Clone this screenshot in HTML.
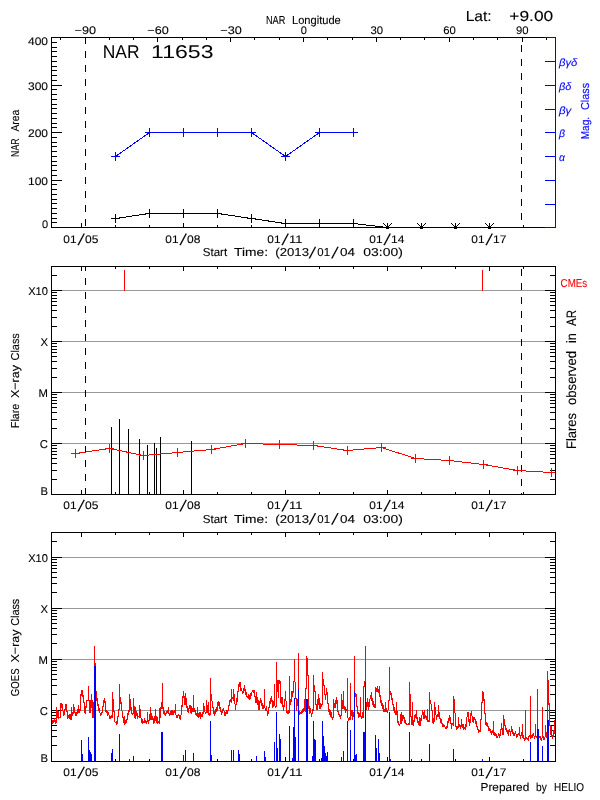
<!DOCTYPE html>
<html><head><meta charset="utf-8"><title>NAR 11653</title>
<style>html,body{margin:0;padding:0;background:#fff}svg{display:block}text{text-rendering:geometricPrecision;stroke-width:0.1px}</style>
</head><body>
<svg width="600" height="800" viewBox="0 0 600 800" font-family="Liberation Sans, sans-serif" shape-rendering="crispEdges">
<rect width="600" height="800" fill="#fff"/>
<defs><clipPath id="c2"><rect x="51" y="266" width="505" height="229"/></clipPath><clipPath id="c3"><rect x="52" y="533" width="503" height="229"/></clipPath></defs>
<rect x="51" y="37" width="495" height="1" fill="#000"/>
<rect x="545" y="37" width="11" height="1" fill="#0000ff"/>
<rect x="51" y="227" width="495" height="1" fill="#000"/>
<rect x="545" y="227" width="11" height="1" fill="#0000ff"/>
<rect x="51" y="37" width="1" height="191" fill="#000"/>
<rect x="555" y="37" width="1" height="191" fill="#0000ff"/>
<rect x="52" y="227" width="10" height="1" fill="#000"/>
<rect x="52" y="222" width="5" height="1" fill="#000"/>
<rect x="52" y="218" width="5" height="1" fill="#000"/>
<rect x="52" y="213" width="5" height="1" fill="#000"/>
<rect x="52" y="208" width="5" height="1" fill="#000"/>
<rect x="52" y="203" width="5" height="1" fill="#000"/>
<rect x="52" y="199" width="5" height="1" fill="#000"/>
<rect x="52" y="194" width="5" height="1" fill="#000"/>
<rect x="52" y="189" width="5" height="1" fill="#000"/>
<rect x="52" y="184" width="5" height="1" fill="#000"/>
<rect x="52" y="180" width="10" height="1" fill="#000"/>
<rect x="52" y="175" width="5" height="1" fill="#000"/>
<rect x="52" y="170" width="5" height="1" fill="#000"/>
<rect x="52" y="165" width="5" height="1" fill="#000"/>
<rect x="52" y="161" width="5" height="1" fill="#000"/>
<rect x="52" y="156" width="5" height="1" fill="#000"/>
<rect x="52" y="151" width="5" height="1" fill="#000"/>
<rect x="52" y="146" width="5" height="1" fill="#000"/>
<rect x="52" y="142" width="5" height="1" fill="#000"/>
<rect x="52" y="137" width="5" height="1" fill="#000"/>
<rect x="52" y="132" width="10" height="1" fill="#000"/>
<rect x="52" y="127" width="5" height="1" fill="#000"/>
<rect x="52" y="123" width="5" height="1" fill="#000"/>
<rect x="52" y="118" width="5" height="1" fill="#000"/>
<rect x="52" y="113" width="5" height="1" fill="#000"/>
<rect x="52" y="108" width="5" height="1" fill="#000"/>
<rect x="52" y="104" width="5" height="1" fill="#000"/>
<rect x="52" y="99" width="5" height="1" fill="#000"/>
<rect x="52" y="94" width="5" height="1" fill="#000"/>
<rect x="52" y="89" width="5" height="1" fill="#000"/>
<rect x="52" y="85" width="10" height="1" fill="#000"/>
<rect x="52" y="80" width="5" height="1" fill="#000"/>
<rect x="52" y="75" width="5" height="1" fill="#000"/>
<rect x="52" y="70" width="5" height="1" fill="#000"/>
<rect x="52" y="66" width="5" height="1" fill="#000"/>
<rect x="52" y="61" width="5" height="1" fill="#000"/>
<rect x="52" y="56" width="5" height="1" fill="#000"/>
<rect x="52" y="51" width="5" height="1" fill="#000"/>
<rect x="52" y="47" width="5" height="1" fill="#000"/>
<rect x="52" y="42" width="5" height="1" fill="#000"/>
<rect x="52" y="37" width="10" height="1" fill="#000"/>
<rect x="545" y="61" width="10" height="1" fill="#0000ff"/>
<rect x="545" y="85" width="10" height="1" fill="#0000ff"/>
<rect x="545" y="109" width="10" height="1" fill="#0000ff"/>
<rect x="545" y="132" width="10" height="1" fill="#0000ff"/>
<rect x="545" y="156" width="10" height="1" fill="#0000ff"/>
<rect x="545" y="180" width="10" height="1" fill="#0000ff"/>
<rect x="545" y="204" width="10" height="1" fill="#0000ff"/>
<rect x="81" y="223" width="1" height="4" fill="#000"/>
<rect x="115" y="225" width="1" height="2" fill="#000"/>
<rect x="149" y="225" width="1" height="2" fill="#000"/>
<rect x="183" y="223" width="1" height="4" fill="#000"/>
<rect x="217" y="225" width="1" height="2" fill="#000"/>
<rect x="251" y="225" width="1" height="2" fill="#000"/>
<rect x="285" y="223" width="1" height="4" fill="#000"/>
<rect x="319" y="225" width="1" height="2" fill="#000"/>
<rect x="353" y="225" width="1" height="2" fill="#000"/>
<rect x="387" y="223" width="1" height="4" fill="#000"/>
<rect x="421" y="225" width="1" height="2" fill="#000"/>
<rect x="455" y="225" width="1" height="2" fill="#000"/>
<rect x="489" y="223" width="1" height="4" fill="#000"/>
<rect x="523" y="225" width="1" height="2" fill="#000"/>
<rect x="60" y="38" width="1" height="2" fill="#000"/>
<rect x="85" y="38" width="1" height="4" fill="#000"/>
<rect x="109" y="38" width="1" height="2" fill="#000"/>
<rect x="133" y="38" width="1" height="2" fill="#000"/>
<rect x="157" y="38" width="1" height="4" fill="#000"/>
<rect x="182" y="38" width="1" height="2" fill="#000"/>
<rect x="206" y="38" width="1" height="2" fill="#000"/>
<rect x="230" y="38" width="1" height="4" fill="#000"/>
<rect x="254" y="38" width="1" height="2" fill="#000"/>
<rect x="279" y="38" width="1" height="2" fill="#000"/>
<rect x="303" y="38" width="1" height="4" fill="#000"/>
<rect x="327" y="38" width="1" height="2" fill="#000"/>
<rect x="352" y="38" width="1" height="2" fill="#000"/>
<rect x="376" y="38" width="1" height="4" fill="#000"/>
<rect x="400" y="38" width="1" height="2" fill="#000"/>
<rect x="424" y="38" width="1" height="2" fill="#000"/>
<rect x="449" y="38" width="1" height="4" fill="#000"/>
<rect x="473" y="38" width="1" height="2" fill="#000"/>
<rect x="497" y="38" width="1" height="2" fill="#000"/>
<rect x="522" y="38" width="1" height="4" fill="#000"/>
<rect x="546" y="38" width="1" height="2" fill="#000"/>
<rect x="85" y="38" width="1" height="6" fill="#000"/>
<rect x="85" y="51" width="1" height="7" fill="#000"/>
<rect x="85" y="65" width="1" height="7" fill="#000"/>
<rect x="85" y="79" width="1" height="7" fill="#000"/>
<rect x="85" y="93" width="1" height="7" fill="#000"/>
<rect x="85" y="107" width="1" height="7" fill="#000"/>
<rect x="85" y="121" width="1" height="7" fill="#000"/>
<rect x="85" y="135" width="1" height="7" fill="#000"/>
<rect x="85" y="149" width="1" height="7" fill="#000"/>
<rect x="85" y="163" width="1" height="7" fill="#000"/>
<rect x="85" y="177" width="1" height="7" fill="#000"/>
<rect x="85" y="191" width="1" height="7" fill="#000"/>
<rect x="85" y="205" width="1" height="7" fill="#000"/>
<rect x="85" y="219" width="1" height="7" fill="#000"/>
<rect x="521" y="45" width="1" height="7" fill="#000"/>
<rect x="521" y="59" width="1" height="7" fill="#000"/>
<rect x="521" y="73" width="1" height="7" fill="#000"/>
<rect x="521" y="87" width="1" height="7" fill="#000"/>
<rect x="521" y="101" width="1" height="7" fill="#000"/>
<rect x="521" y="115" width="1" height="7" fill="#000"/>
<rect x="521" y="129" width="1" height="7" fill="#000"/>
<rect x="521" y="143" width="1" height="7" fill="#000"/>
<rect x="521" y="157" width="1" height="7" fill="#000"/>
<rect x="521" y="171" width="1" height="7" fill="#000"/>
<rect x="521" y="185" width="1" height="7" fill="#000"/>
<rect x="521" y="199" width="1" height="7" fill="#000"/>
<rect x="521" y="213" width="1" height="7" fill="#000"/>
<polyline points="115.5,156.5 149.5,132.5 183.5,132.5 217.5,132.5 251.5,132.5 285.5,156.5 319.5,132.5 353.5,132.5" fill="none" stroke="#0000ff" stroke-width="1"/>
<rect x="111" y="156" width="9" height="1" fill="#0000ff"/>
<rect x="115" y="152" width="1" height="9" fill="#0000ff"/>
<rect x="145" y="132" width="9" height="1" fill="#0000ff"/>
<rect x="149" y="128" width="1" height="9" fill="#0000ff"/>
<rect x="179" y="132" width="9" height="1" fill="#0000ff"/>
<rect x="183" y="128" width="1" height="9" fill="#0000ff"/>
<rect x="213" y="132" width="9" height="1" fill="#0000ff"/>
<rect x="217" y="128" width="1" height="9" fill="#0000ff"/>
<rect x="247" y="132" width="9" height="1" fill="#0000ff"/>
<rect x="251" y="128" width="1" height="9" fill="#0000ff"/>
<rect x="281" y="156" width="9" height="1" fill="#0000ff"/>
<rect x="285" y="152" width="1" height="9" fill="#0000ff"/>
<rect x="315" y="132" width="9" height="1" fill="#0000ff"/>
<rect x="319" y="128" width="1" height="9" fill="#0000ff"/>
<rect x="349" y="132" width="9" height="1" fill="#0000ff"/>
<rect x="353" y="128" width="1" height="9" fill="#0000ff"/>
<polyline points="115.5,218.5 149.5,213.5 183.5,213.5 217.5,213.5 251.5,218.5 285.5,223.5 319.5,223.5 353.5,223.5 387.5,227.5" fill="none" stroke="#000" stroke-width="1"/>
<rect x="111" y="218" width="9" height="1" fill="#000"/>
<rect x="115" y="214" width="1" height="9" fill="#000"/>
<rect x="145" y="213" width="9" height="1" fill="#000"/>
<rect x="149" y="209" width="1" height="9" fill="#000"/>
<rect x="179" y="213" width="9" height="1" fill="#000"/>
<rect x="183" y="209" width="1" height="9" fill="#000"/>
<rect x="213" y="213" width="9" height="1" fill="#000"/>
<rect x="217" y="209" width="1" height="9" fill="#000"/>
<rect x="247" y="218" width="9" height="1" fill="#000"/>
<rect x="251" y="214" width="1" height="9" fill="#000"/>
<rect x="281" y="223" width="9" height="1" fill="#000"/>
<rect x="285" y="219" width="1" height="9" fill="#000"/>
<rect x="315" y="223" width="9" height="1" fill="#000"/>
<rect x="319" y="219" width="1" height="9" fill="#000"/>
<rect x="349" y="223" width="9" height="1" fill="#000"/>
<rect x="353" y="219" width="1" height="9" fill="#000"/>
<path d="M383.5,223.5L387.5,227.5L391.5,223.5" fill="none" stroke="#000" stroke-width="1"/>
<rect x="387" y="223" width="1" height="4" fill="#000"/>
<rect x="386" y="226" width="3" height="3" fill="#000"/>
<path d="M417.5,223.5L421.5,227.5L425.5,223.5" fill="none" stroke="#000" stroke-width="1"/>
<rect x="421" y="223" width="1" height="4" fill="#000"/>
<rect x="420" y="226" width="3" height="3" fill="#000"/>
<path d="M451.5,223.5L455.5,227.5L459.5,223.5" fill="none" stroke="#000" stroke-width="1"/>
<rect x="455" y="223" width="1" height="4" fill="#000"/>
<rect x="454" y="226" width="3" height="3" fill="#000"/>
<path d="M485.5,223.5L489.5,227.5L493.5,223.5" fill="none" stroke="#000" stroke-width="1"/>
<rect x="489" y="223" width="1" height="4" fill="#000"/>
<rect x="488" y="226" width="3" height="3" fill="#000"/>
<text font-size="11.5" fill="#000" stroke="#000"><tspan x="265.9" y="24.2" rotate="0" textLength="19.4" lengthAdjust="spacingAndGlyphs">NAR</tspan> <tspan x="292.0" y="24.2" rotate="0" textLength="48.8" lengthAdjust="spacingAndGlyphs">Longitude</tspan></text>
<text font-size="14.5" fill="#000" stroke="#000"><tspan x="465.7" y="20.8" rotate="0" textLength="26.0" lengthAdjust="spacingAndGlyphs">Lat:</tspan> <tspan x="509.3" y="20.8" rotate="0" textLength="44.0" lengthAdjust="spacingAndGlyphs">+9.00</tspan></text>
<text x="85.3" y="34" font-size="11" text-anchor="middle" fill="#000" stroke="#000" textLength="21.5" lengthAdjust="spacingAndGlyphs">&#8722;90</text>
<text x="158.1" y="34" font-size="11" text-anchor="middle" fill="#000" stroke="#000" textLength="21.5" lengthAdjust="spacingAndGlyphs">&#8722;60</text>
<text x="231.0" y="34" font-size="11" text-anchor="middle" fill="#000" stroke="#000" textLength="21.5" lengthAdjust="spacingAndGlyphs">&#8722;30</text>
<text x="303.8" y="34" font-size="11" text-anchor="middle" fill="#000" stroke="#000">0</text>
<text x="376.7" y="34" font-size="11" text-anchor="middle" fill="#000" stroke="#000" textLength="12.6" lengthAdjust="spacingAndGlyphs">30</text>
<text x="449.5" y="34" font-size="11" text-anchor="middle" fill="#000" stroke="#000" textLength="12.6" lengthAdjust="spacingAndGlyphs">60</text>
<text x="522.3" y="34" font-size="11" text-anchor="middle" fill="#000" stroke="#000" textLength="12.6" lengthAdjust="spacingAndGlyphs">90</text>
<text y="57.6" font-size="18.5" stroke="none"><tspan x="102.8" textLength="36.7" lengthAdjust="spacingAndGlyphs">NAR</tspan> <tspan x="151" textLength="62.5" lengthAdjust="spacingAndGlyphs">11653</tspan></text>
<text x="48" y="45" font-size="11" text-anchor="end" fill="#000" stroke="#000" textLength="20" lengthAdjust="spacingAndGlyphs">400</text>
<text x="48" y="89.7" font-size="11" text-anchor="end" fill="#000" stroke="#000" textLength="20" lengthAdjust="spacingAndGlyphs">300</text>
<text x="48" y="137" font-size="11" text-anchor="end" fill="#000" stroke="#000" textLength="20" lengthAdjust="spacingAndGlyphs">200</text>
<text x="48" y="184.8" font-size="11" text-anchor="end" fill="#000" stroke="#000" textLength="20" lengthAdjust="spacingAndGlyphs">100</text>
<text x="48" y="227.8" font-size="11" text-anchor="end" fill="#000" stroke="#000">0</text>
<text font-size="11.5" fill="#000" stroke="#000" transform="translate(19.2,156.9) rotate(-90)"><tspan x="0.0" y="0" rotate="0" textLength="18.5" lengthAdjust="spacingAndGlyphs">NAR</tspan> <tspan x="25.3" y="0" rotate="0" textLength="21.9" lengthAdjust="spacingAndGlyphs">Area</tspan></text>
<text x="559" y="65.5" font-size="10.5" text-anchor="start" fill="#0000ff" stroke="#0000ff" textLength="18.4" lengthAdjust="spacingAndGlyphs" font-style="italic">&#946;&#947;&#948;</text>
<text x="559" y="89.5" font-size="10.5" text-anchor="start" fill="#0000ff" stroke="#0000ff" textLength="12.3" lengthAdjust="spacingAndGlyphs" font-style="italic">&#946;&#948;</text>
<text x="559" y="113.5" font-size="10.5" text-anchor="start" fill="#0000ff" stroke="#0000ff" textLength="12.3" lengthAdjust="spacingAndGlyphs" font-style="italic">&#946;&#947;</text>
<text x="559" y="136.5" font-size="10.5" text-anchor="start" fill="#0000ff" stroke="#0000ff" font-style="italic">&#946;</text>
<text x="559" y="160.5" font-size="10.5" text-anchor="start" fill="#0000ff" stroke="#0000ff" font-style="italic">&#945;</text>
<text font-size="11.5" fill="#0000ff" stroke="#0000ff" transform="translate(589.2,139.2) rotate(-90)"><tspan x="0.0" y="0" rotate="0" textLength="22.2" lengthAdjust="spacingAndGlyphs">Mag.</tspan> <tspan x="29.2" y="0" rotate="0" textLength="27.1" lengthAdjust="spacingAndGlyphs">Class</tspan></text>
<text font-size="11" fill="#000" stroke="#000"><tspan x="63.3" y="243" rotate="0" textLength="13.2" lengthAdjust="spacingAndGlyphs">01</tspan><tspan x="77.6" y="244.7" font-size="17" rotate="13">/</tspan><tspan x="85.1" y="243" rotate="0" textLength="13.4" lengthAdjust="spacingAndGlyphs">05</tspan></text>
<text font-size="11" fill="#000" stroke="#000"><tspan x="165.3" y="243" rotate="0" textLength="13.2" lengthAdjust="spacingAndGlyphs">01</tspan><tspan x="179.6" y="244.7" font-size="17" rotate="13">/</tspan><tspan x="187.1" y="243" rotate="0" textLength="13.4" lengthAdjust="spacingAndGlyphs">08</tspan></text>
<text font-size="11" fill="#000" stroke="#000"><tspan x="267.3" y="243" rotate="0" textLength="13.2" lengthAdjust="spacingAndGlyphs">01</tspan><tspan x="281.6" y="244.7" font-size="17" rotate="13">/</tspan><tspan x="289.1" y="243" rotate="0" textLength="13.4" lengthAdjust="spacingAndGlyphs">11</tspan></text>
<text font-size="11" fill="#000" stroke="#000"><tspan x="369.3" y="243" rotate="0" textLength="13.2" lengthAdjust="spacingAndGlyphs">01</tspan><tspan x="383.6" y="244.7" font-size="17" rotate="13">/</tspan><tspan x="391.1" y="243" rotate="0" textLength="13.4" lengthAdjust="spacingAndGlyphs">14</tspan></text>
<text font-size="11" fill="#000" stroke="#000"><tspan x="471.3" y="243" rotate="0" textLength="13.2" lengthAdjust="spacingAndGlyphs">01</tspan><tspan x="485.6" y="244.7" font-size="17" rotate="13">/</tspan><tspan x="493.1" y="243" rotate="0" textLength="13.4" lengthAdjust="spacingAndGlyphs">17</tspan></text>
<text font-size="11.5" fill="#000" stroke="#000"><tspan x="202.8" y="256.4" rotate="0" textLength="24.4" lengthAdjust="spacingAndGlyphs">Start</tspan> <tspan x="234.0" y="256.4" rotate="0" textLength="34.0" lengthAdjust="spacingAndGlyphs">Time:</tspan> <tspan x="275.3" y="256.4" rotate="0" textLength="33.7" lengthAdjust="spacingAndGlyphs">(2013</tspan><tspan x="308.7" y="258.1" font-size="17" rotate="13">/</tspan><tspan x="317.3" y="256.4" rotate="0" textLength="12.7" lengthAdjust="spacingAndGlyphs">01</tspan><tspan x="331.3" y="258.1" font-size="17" rotate="13">/</tspan><tspan x="340.0" y="256.4" rotate="0" textLength="15.0" lengthAdjust="spacingAndGlyphs">04</tspan> <tspan x="363.3" y="256.4" rotate="0" textLength="39.5" lengthAdjust="spacingAndGlyphs">03:00)</tspan></text>
<rect x="51" y="266" width="505" height="1" fill="#000"/>
<rect x="51" y="494" width="505" height="1" fill="#000"/>
<rect x="51" y="266" width="1" height="229" fill="#000"/>
<rect x="555" y="266" width="1" height="229" fill="#000"/>
<rect x="81" y="267" width="1" height="4" fill="#000"/>
<rect x="115" y="267" width="1" height="2" fill="#000"/>
<rect x="149" y="267" width="1" height="2" fill="#000"/>
<rect x="183" y="267" width="1" height="4" fill="#000"/>
<rect x="217" y="267" width="1" height="2" fill="#000"/>
<rect x="251" y="267" width="1" height="2" fill="#000"/>
<rect x="285" y="267" width="1" height="4" fill="#000"/>
<rect x="319" y="267" width="1" height="2" fill="#000"/>
<rect x="353" y="267" width="1" height="2" fill="#000"/>
<rect x="387" y="267" width="1" height="4" fill="#000"/>
<rect x="421" y="267" width="1" height="2" fill="#000"/>
<rect x="455" y="267" width="1" height="2" fill="#000"/>
<rect x="489" y="267" width="1" height="4" fill="#000"/>
<rect x="523" y="267" width="1" height="2" fill="#000"/>
<rect x="81" y="490" width="1" height="4" fill="#000"/>
<rect x="115" y="492" width="1" height="2" fill="#000"/>
<rect x="149" y="492" width="1" height="2" fill="#000"/>
<rect x="183" y="490" width="1" height="4" fill="#000"/>
<rect x="217" y="492" width="1" height="2" fill="#000"/>
<rect x="251" y="492" width="1" height="2" fill="#000"/>
<rect x="285" y="490" width="1" height="4" fill="#000"/>
<rect x="319" y="492" width="1" height="2" fill="#000"/>
<rect x="353" y="492" width="1" height="2" fill="#000"/>
<rect x="387" y="490" width="1" height="4" fill="#000"/>
<rect x="421" y="492" width="1" height="2" fill="#000"/>
<rect x="455" y="492" width="1" height="2" fill="#000"/>
<rect x="489" y="490" width="1" height="4" fill="#000"/>
<rect x="523" y="492" width="1" height="2" fill="#000"/>
<rect x="62" y="290" width="483" height="1" fill="#999999"/>
<rect x="62" y="341" width="483" height="1" fill="#999999"/>
<rect x="62" y="392" width="483" height="1" fill="#999999"/>
<rect x="62" y="443" width="483" height="1" fill="#999999"/>
<rect x="52" y="290" width="10" height="1" fill="#000"/>
<rect x="545" y="290" width="10" height="1" fill="#000"/>
<rect x="52" y="275" width="5" height="1" fill="#000"/>
<rect x="550" y="275" width="5" height="1" fill="#000"/>
<rect x="52" y="341" width="10" height="1" fill="#000"/>
<rect x="545" y="341" width="10" height="1" fill="#000"/>
<rect x="52" y="326" width="5" height="1" fill="#000"/>
<rect x="550" y="326" width="5" height="1" fill="#000"/>
<rect x="52" y="317" width="5" height="1" fill="#000"/>
<rect x="550" y="317" width="5" height="1" fill="#000"/>
<rect x="52" y="310" width="5" height="1" fill="#000"/>
<rect x="550" y="310" width="5" height="1" fill="#000"/>
<rect x="52" y="305" width="5" height="1" fill="#000"/>
<rect x="550" y="305" width="5" height="1" fill="#000"/>
<rect x="52" y="301" width="5" height="1" fill="#000"/>
<rect x="550" y="301" width="5" height="1" fill="#000"/>
<rect x="52" y="298" width="5" height="1" fill="#000"/>
<rect x="550" y="298" width="5" height="1" fill="#000"/>
<rect x="52" y="295" width="5" height="1" fill="#000"/>
<rect x="550" y="295" width="5" height="1" fill="#000"/>
<rect x="52" y="292" width="5" height="1" fill="#000"/>
<rect x="550" y="292" width="5" height="1" fill="#000"/>
<rect x="52" y="392" width="10" height="1" fill="#000"/>
<rect x="545" y="392" width="10" height="1" fill="#000"/>
<rect x="52" y="377" width="5" height="1" fill="#000"/>
<rect x="550" y="377" width="5" height="1" fill="#000"/>
<rect x="52" y="368" width="5" height="1" fill="#000"/>
<rect x="550" y="368" width="5" height="1" fill="#000"/>
<rect x="52" y="361" width="5" height="1" fill="#000"/>
<rect x="550" y="361" width="5" height="1" fill="#000"/>
<rect x="52" y="356" width="5" height="1" fill="#000"/>
<rect x="550" y="356" width="5" height="1" fill="#000"/>
<rect x="52" y="352" width="5" height="1" fill="#000"/>
<rect x="550" y="352" width="5" height="1" fill="#000"/>
<rect x="52" y="349" width="5" height="1" fill="#000"/>
<rect x="550" y="349" width="5" height="1" fill="#000"/>
<rect x="52" y="346" width="5" height="1" fill="#000"/>
<rect x="550" y="346" width="5" height="1" fill="#000"/>
<rect x="52" y="343" width="5" height="1" fill="#000"/>
<rect x="550" y="343" width="5" height="1" fill="#000"/>
<rect x="52" y="443" width="10" height="1" fill="#000"/>
<rect x="545" y="443" width="10" height="1" fill="#000"/>
<rect x="52" y="428" width="5" height="1" fill="#000"/>
<rect x="550" y="428" width="5" height="1" fill="#000"/>
<rect x="52" y="419" width="5" height="1" fill="#000"/>
<rect x="550" y="419" width="5" height="1" fill="#000"/>
<rect x="52" y="412" width="5" height="1" fill="#000"/>
<rect x="550" y="412" width="5" height="1" fill="#000"/>
<rect x="52" y="407" width="5" height="1" fill="#000"/>
<rect x="550" y="407" width="5" height="1" fill="#000"/>
<rect x="52" y="403" width="5" height="1" fill="#000"/>
<rect x="550" y="403" width="5" height="1" fill="#000"/>
<rect x="52" y="400" width="5" height="1" fill="#000"/>
<rect x="550" y="400" width="5" height="1" fill="#000"/>
<rect x="52" y="397" width="5" height="1" fill="#000"/>
<rect x="550" y="397" width="5" height="1" fill="#000"/>
<rect x="52" y="394" width="5" height="1" fill="#000"/>
<rect x="550" y="394" width="5" height="1" fill="#000"/>
<rect x="52" y="479" width="5" height="1" fill="#000"/>
<rect x="550" y="479" width="5" height="1" fill="#000"/>
<rect x="52" y="470" width="5" height="1" fill="#000"/>
<rect x="550" y="470" width="5" height="1" fill="#000"/>
<rect x="52" y="463" width="5" height="1" fill="#000"/>
<rect x="550" y="463" width="5" height="1" fill="#000"/>
<rect x="52" y="458" width="5" height="1" fill="#000"/>
<rect x="550" y="458" width="5" height="1" fill="#000"/>
<rect x="52" y="454" width="5" height="1" fill="#000"/>
<rect x="550" y="454" width="5" height="1" fill="#000"/>
<rect x="52" y="451" width="5" height="1" fill="#000"/>
<rect x="550" y="451" width="5" height="1" fill="#000"/>
<rect x="52" y="448" width="5" height="1" fill="#000"/>
<rect x="550" y="448" width="5" height="1" fill="#000"/>
<rect x="52" y="445" width="5" height="1" fill="#000"/>
<rect x="550" y="445" width="5" height="1" fill="#000"/>
<rect x="85" y="267" width="1" height="4" fill="#000"/>
<rect x="85" y="278" width="1" height="7" fill="#000"/>
<rect x="85" y="292" width="1" height="7" fill="#000"/>
<rect x="85" y="306" width="1" height="7" fill="#000"/>
<rect x="85" y="320" width="1" height="7" fill="#000"/>
<rect x="85" y="334" width="1" height="7" fill="#000"/>
<rect x="85" y="348" width="1" height="7" fill="#000"/>
<rect x="85" y="362" width="1" height="7" fill="#000"/>
<rect x="85" y="376" width="1" height="7" fill="#000"/>
<rect x="85" y="390" width="1" height="7" fill="#000"/>
<rect x="85" y="404" width="1" height="7" fill="#000"/>
<rect x="85" y="418" width="1" height="7" fill="#000"/>
<rect x="85" y="432" width="1" height="7" fill="#000"/>
<rect x="85" y="446" width="1" height="7" fill="#000"/>
<rect x="85" y="460" width="1" height="7" fill="#000"/>
<rect x="85" y="474" width="1" height="7" fill="#000"/>
<rect x="85" y="488" width="1" height="6" fill="#000"/>
<rect x="521" y="269" width="1" height="7" fill="#000"/>
<rect x="521" y="283" width="1" height="7" fill="#000"/>
<rect x="521" y="297" width="1" height="7" fill="#000"/>
<rect x="521" y="311" width="1" height="7" fill="#000"/>
<rect x="521" y="325" width="1" height="7" fill="#000"/>
<rect x="521" y="339" width="1" height="7" fill="#000"/>
<rect x="521" y="353" width="1" height="7" fill="#000"/>
<rect x="521" y="367" width="1" height="7" fill="#000"/>
<rect x="521" y="381" width="1" height="7" fill="#000"/>
<rect x="521" y="395" width="1" height="7" fill="#000"/>
<rect x="521" y="409" width="1" height="7" fill="#000"/>
<rect x="521" y="423" width="1" height="7" fill="#000"/>
<rect x="521" y="437" width="1" height="7" fill="#000"/>
<rect x="521" y="451" width="1" height="7" fill="#000"/>
<rect x="521" y="465" width="1" height="7" fill="#000"/>
<rect x="521" y="479" width="1" height="7" fill="#000"/>
<rect x="521" y="493" width="1" height="1" fill="#000"/>
<rect x="111" y="427" width="1" height="67" fill="#000"/>
<rect x="119" y="419" width="1" height="75" fill="#000"/>
<rect x="128" y="429" width="1" height="65" fill="#000"/>
<rect x="139" y="439" width="1" height="55" fill="#000"/>
<rect x="147" y="445" width="1" height="49" fill="#000"/>
<rect x="154" y="443" width="1" height="51" fill="#000"/>
<rect x="156" y="448" width="1" height="46" fill="#000"/>
<rect x="160" y="437" width="1" height="57" fill="#000"/>
<rect x="191" y="441" width="1" height="53" fill="#000"/>
<rect x="124" y="270" width="1" height="21" fill="#ff0000"/>
<rect x="482" y="270" width="1" height="21" fill="#ff0000"/>
<g clip-path="url(#c2)">
<polyline points="75.5,453.5 109.5,448.5 143.5,455.5 177.5,452.5 211.5,449.5 245.5,443.5 279.5,444.5 313.5,445.5 347.5,450.5 381.5,447.5 415.5,458.5 449.5,460.5 483.5,464.5 517.5,470.5 551.5,472.5" fill="none" stroke="#ff0000" stroke-width="1"/>
<rect x="71" y="453" width="9" height="1" fill="#ff0000"/>
<rect x="75" y="449" width="1" height="9" fill="#ff0000"/>
<rect x="105" y="448" width="9" height="1" fill="#ff0000"/>
<rect x="109" y="444" width="1" height="9" fill="#ff0000"/>
<rect x="139" y="455" width="9" height="1" fill="#ff0000"/>
<rect x="143" y="451" width="1" height="9" fill="#ff0000"/>
<rect x="173" y="452" width="9" height="1" fill="#ff0000"/>
<rect x="177" y="448" width="1" height="9" fill="#ff0000"/>
<rect x="207" y="449" width="9" height="1" fill="#ff0000"/>
<rect x="211" y="445" width="1" height="9" fill="#ff0000"/>
<rect x="241" y="443" width="9" height="1" fill="#ff0000"/>
<rect x="245" y="439" width="1" height="9" fill="#ff0000"/>
<rect x="275" y="444" width="9" height="1" fill="#ff0000"/>
<rect x="279" y="440" width="1" height="9" fill="#ff0000"/>
<rect x="309" y="445" width="9" height="1" fill="#ff0000"/>
<rect x="313" y="441" width="1" height="9" fill="#ff0000"/>
<rect x="343" y="450" width="9" height="1" fill="#ff0000"/>
<rect x="347" y="446" width="1" height="9" fill="#ff0000"/>
<rect x="377" y="447" width="9" height="1" fill="#ff0000"/>
<rect x="381" y="443" width="1" height="9" fill="#ff0000"/>
<rect x="411" y="458" width="9" height="1" fill="#ff0000"/>
<rect x="415" y="454" width="1" height="9" fill="#ff0000"/>
<rect x="445" y="460" width="9" height="1" fill="#ff0000"/>
<rect x="449" y="456" width="1" height="9" fill="#ff0000"/>
<rect x="479" y="464" width="9" height="1" fill="#ff0000"/>
<rect x="483" y="460" width="1" height="9" fill="#ff0000"/>
<rect x="513" y="470" width="9" height="1" fill="#ff0000"/>
<rect x="517" y="466" width="1" height="9" fill="#ff0000"/>
<rect x="547" y="472" width="9" height="1" fill="#ff0000"/>
<rect x="551" y="468" width="1" height="9" fill="#ff0000"/>
</g>
<rect x="555" y="266" width="1" height="229" fill="#000"/>
<text x="48" y="294.6" font-size="11.3" text-anchor="end" fill="#000" stroke="#000" textLength="19.8" lengthAdjust="spacingAndGlyphs">X10</text>
<text x="48" y="345.6" font-size="11.3" text-anchor="end" fill="#000" stroke="#000">X</text>
<text x="48" y="396.6" font-size="11.3" text-anchor="end" fill="#000" stroke="#000">M</text>
<text x="48" y="447.6" font-size="11.3" text-anchor="end" fill="#000" stroke="#000">C</text>
<text x="48" y="494.5" font-size="11.3" text-anchor="end" fill="#000" stroke="#000">B</text>
<text font-size="11.5" fill="#000" stroke="#000" transform="translate(19.2,428) rotate(-90)"><tspan x="0.0" y="0" rotate="0" textLength="24.0" lengthAdjust="spacingAndGlyphs">Flare</tspan> <tspan x="30.0" y="0" rotate="0" textLength="33.0" lengthAdjust="spacingAndGlyphs">X&#8722;ray</tspan> <tspan x="67.5" y="0" rotate="0" textLength="27.3" lengthAdjust="spacingAndGlyphs">Class</tspan></text>
<text x="560.6" y="287.1" font-size="11.5" text-anchor="start" fill="#ff0000" stroke="#ff0000" textLength="26.6" lengthAdjust="spacingAndGlyphs">CMEs</text>
<text font-size="13.7" fill="#000" stroke="#000" transform="translate(575.8,449) rotate(-90)"><tspan x="0.0" y="0" rotate="0" textLength="36.0" lengthAdjust="spacingAndGlyphs">Flares</tspan> <tspan x="44.0" y="0" rotate="0" textLength="54.0" lengthAdjust="spacingAndGlyphs">observed</tspan> <tspan x="106.0" y="0" rotate="0" textLength="10.0" lengthAdjust="spacingAndGlyphs">in</tspan> <tspan x="123.0" y="0" rotate="0" textLength="16.0" lengthAdjust="spacingAndGlyphs">AR</tspan></text>
<text font-size="11" fill="#000" stroke="#000"><tspan x="63.3" y="509.2" rotate="0" textLength="13.2" lengthAdjust="spacingAndGlyphs">01</tspan><tspan x="77.6" y="510.9" font-size="17" rotate="13">/</tspan><tspan x="85.1" y="509.2" rotate="0" textLength="13.4" lengthAdjust="spacingAndGlyphs">05</tspan></text>
<text font-size="11" fill="#000" stroke="#000"><tspan x="165.3" y="509.2" rotate="0" textLength="13.2" lengthAdjust="spacingAndGlyphs">01</tspan><tspan x="179.6" y="510.9" font-size="17" rotate="13">/</tspan><tspan x="187.1" y="509.2" rotate="0" textLength="13.4" lengthAdjust="spacingAndGlyphs">08</tspan></text>
<text font-size="11" fill="#000" stroke="#000"><tspan x="267.3" y="509.2" rotate="0" textLength="13.2" lengthAdjust="spacingAndGlyphs">01</tspan><tspan x="281.6" y="510.9" font-size="17" rotate="13">/</tspan><tspan x="289.1" y="509.2" rotate="0" textLength="13.4" lengthAdjust="spacingAndGlyphs">11</tspan></text>
<text font-size="11" fill="#000" stroke="#000"><tspan x="369.3" y="509.2" rotate="0" textLength="13.2" lengthAdjust="spacingAndGlyphs">01</tspan><tspan x="383.6" y="510.9" font-size="17" rotate="13">/</tspan><tspan x="391.1" y="509.2" rotate="0" textLength="13.4" lengthAdjust="spacingAndGlyphs">14</tspan></text>
<text font-size="11" fill="#000" stroke="#000"><tspan x="471.3" y="509.2" rotate="0" textLength="13.2" lengthAdjust="spacingAndGlyphs">01</tspan><tspan x="485.6" y="510.9" font-size="17" rotate="13">/</tspan><tspan x="493.1" y="509.2" rotate="0" textLength="13.4" lengthAdjust="spacingAndGlyphs">17</tspan></text>
<text font-size="11.5" fill="#000" stroke="#000"><tspan x="202.8" y="522.6" rotate="0" textLength="24.4" lengthAdjust="spacingAndGlyphs">Start</tspan> <tspan x="234.0" y="522.6" rotate="0" textLength="34.0" lengthAdjust="spacingAndGlyphs">Time:</tspan> <tspan x="275.3" y="522.6" rotate="0" textLength="33.7" lengthAdjust="spacingAndGlyphs">(2013</tspan><tspan x="308.7" y="524.3" font-size="17" rotate="13">/</tspan><tspan x="317.3" y="522.6" rotate="0" textLength="12.7" lengthAdjust="spacingAndGlyphs">01</tspan><tspan x="331.3" y="524.3" font-size="17" rotate="13">/</tspan><tspan x="340.0" y="522.6" rotate="0" textLength="15.0" lengthAdjust="spacingAndGlyphs">04</tspan> <tspan x="363.3" y="522.6" rotate="0" textLength="39.5" lengthAdjust="spacingAndGlyphs">03:00)</tspan></text>
<rect x="51" y="532" width="505" height="1" fill="#000"/>
<rect x="51" y="761" width="505" height="1" fill="#000"/>
<rect x="51" y="532" width="1" height="230" fill="#000"/>
<rect x="555" y="532" width="1" height="230" fill="#000"/>
<rect x="81" y="533" width="1" height="4" fill="#000"/>
<rect x="115" y="533" width="1" height="2" fill="#000"/>
<rect x="149" y="533" width="1" height="2" fill="#000"/>
<rect x="183" y="533" width="1" height="4" fill="#000"/>
<rect x="217" y="533" width="1" height="2" fill="#000"/>
<rect x="251" y="533" width="1" height="2" fill="#000"/>
<rect x="285" y="533" width="1" height="4" fill="#000"/>
<rect x="319" y="533" width="1" height="2" fill="#000"/>
<rect x="353" y="533" width="1" height="2" fill="#000"/>
<rect x="387" y="533" width="1" height="4" fill="#000"/>
<rect x="421" y="533" width="1" height="2" fill="#000"/>
<rect x="455" y="533" width="1" height="2" fill="#000"/>
<rect x="489" y="533" width="1" height="4" fill="#000"/>
<rect x="523" y="533" width="1" height="2" fill="#000"/>
<rect x="81" y="757" width="1" height="4" fill="#000"/>
<rect x="115" y="759" width="1" height="2" fill="#000"/>
<rect x="149" y="759" width="1" height="2" fill="#000"/>
<rect x="183" y="757" width="1" height="4" fill="#000"/>
<rect x="217" y="759" width="1" height="2" fill="#000"/>
<rect x="251" y="759" width="1" height="2" fill="#000"/>
<rect x="285" y="757" width="1" height="4" fill="#000"/>
<rect x="319" y="759" width="1" height="2" fill="#000"/>
<rect x="353" y="759" width="1" height="2" fill="#000"/>
<rect x="387" y="757" width="1" height="4" fill="#000"/>
<rect x="421" y="759" width="1" height="2" fill="#000"/>
<rect x="455" y="759" width="1" height="2" fill="#000"/>
<rect x="489" y="757" width="1" height="4" fill="#000"/>
<rect x="523" y="759" width="1" height="2" fill="#000"/>
<rect x="62" y="557" width="483" height="1" fill="#999999"/>
<rect x="62" y="608" width="483" height="1" fill="#999999"/>
<rect x="62" y="659" width="483" height="1" fill="#999999"/>
<rect x="62" y="710" width="483" height="1" fill="#999999"/>
<rect x="52" y="557" width="10" height="1" fill="#000"/>
<rect x="545" y="557" width="10" height="1" fill="#000"/>
<rect x="52" y="541" width="5" height="1" fill="#000"/>
<rect x="550" y="541" width="5" height="1" fill="#000"/>
<rect x="52" y="608" width="10" height="1" fill="#000"/>
<rect x="545" y="608" width="10" height="1" fill="#000"/>
<rect x="52" y="592" width="5" height="1" fill="#000"/>
<rect x="550" y="592" width="5" height="1" fill="#000"/>
<rect x="52" y="583" width="5" height="1" fill="#000"/>
<rect x="550" y="583" width="5" height="1" fill="#000"/>
<rect x="52" y="577" width="5" height="1" fill="#000"/>
<rect x="550" y="577" width="5" height="1" fill="#000"/>
<rect x="52" y="572" width="5" height="1" fill="#000"/>
<rect x="550" y="572" width="5" height="1" fill="#000"/>
<rect x="52" y="568" width="5" height="1" fill="#000"/>
<rect x="550" y="568" width="5" height="1" fill="#000"/>
<rect x="52" y="565" width="5" height="1" fill="#000"/>
<rect x="550" y="565" width="5" height="1" fill="#000"/>
<rect x="52" y="562" width="5" height="1" fill="#000"/>
<rect x="550" y="562" width="5" height="1" fill="#000"/>
<rect x="52" y="559" width="5" height="1" fill="#000"/>
<rect x="550" y="559" width="5" height="1" fill="#000"/>
<rect x="52" y="659" width="10" height="1" fill="#000"/>
<rect x="545" y="659" width="10" height="1" fill="#000"/>
<rect x="52" y="643" width="5" height="1" fill="#000"/>
<rect x="550" y="643" width="5" height="1" fill="#000"/>
<rect x="52" y="634" width="5" height="1" fill="#000"/>
<rect x="550" y="634" width="5" height="1" fill="#000"/>
<rect x="52" y="628" width="5" height="1" fill="#000"/>
<rect x="550" y="628" width="5" height="1" fill="#000"/>
<rect x="52" y="623" width="5" height="1" fill="#000"/>
<rect x="550" y="623" width="5" height="1" fill="#000"/>
<rect x="52" y="619" width="5" height="1" fill="#000"/>
<rect x="550" y="619" width="5" height="1" fill="#000"/>
<rect x="52" y="616" width="5" height="1" fill="#000"/>
<rect x="550" y="616" width="5" height="1" fill="#000"/>
<rect x="52" y="613" width="5" height="1" fill="#000"/>
<rect x="550" y="613" width="5" height="1" fill="#000"/>
<rect x="52" y="610" width="5" height="1" fill="#000"/>
<rect x="550" y="610" width="5" height="1" fill="#000"/>
<rect x="52" y="710" width="10" height="1" fill="#000"/>
<rect x="545" y="710" width="10" height="1" fill="#000"/>
<rect x="52" y="694" width="5" height="1" fill="#000"/>
<rect x="550" y="694" width="5" height="1" fill="#000"/>
<rect x="52" y="685" width="5" height="1" fill="#000"/>
<rect x="550" y="685" width="5" height="1" fill="#000"/>
<rect x="52" y="679" width="5" height="1" fill="#000"/>
<rect x="550" y="679" width="5" height="1" fill="#000"/>
<rect x="52" y="674" width="5" height="1" fill="#000"/>
<rect x="550" y="674" width="5" height="1" fill="#000"/>
<rect x="52" y="670" width="5" height="1" fill="#000"/>
<rect x="550" y="670" width="5" height="1" fill="#000"/>
<rect x="52" y="667" width="5" height="1" fill="#000"/>
<rect x="550" y="667" width="5" height="1" fill="#000"/>
<rect x="52" y="664" width="5" height="1" fill="#000"/>
<rect x="550" y="664" width="5" height="1" fill="#000"/>
<rect x="52" y="661" width="5" height="1" fill="#000"/>
<rect x="550" y="661" width="5" height="1" fill="#000"/>
<rect x="52" y="745" width="5" height="1" fill="#000"/>
<rect x="550" y="745" width="5" height="1" fill="#000"/>
<rect x="52" y="736" width="5" height="1" fill="#000"/>
<rect x="550" y="736" width="5" height="1" fill="#000"/>
<rect x="52" y="730" width="5" height="1" fill="#000"/>
<rect x="550" y="730" width="5" height="1" fill="#000"/>
<rect x="52" y="725" width="5" height="1" fill="#000"/>
<rect x="550" y="725" width="5" height="1" fill="#000"/>
<rect x="52" y="721" width="5" height="1" fill="#000"/>
<rect x="550" y="721" width="5" height="1" fill="#000"/>
<rect x="52" y="718" width="5" height="1" fill="#000"/>
<rect x="550" y="718" width="5" height="1" fill="#000"/>
<rect x="52" y="715" width="5" height="1" fill="#000"/>
<rect x="550" y="715" width="5" height="1" fill="#000"/>
<rect x="52" y="712" width="5" height="1" fill="#000"/>
<rect x="550" y="712" width="5" height="1" fill="#000"/>
<text x="48" y="561.6" font-size="11.3" text-anchor="end" fill="#000" stroke="#000" textLength="19.8" lengthAdjust="spacingAndGlyphs">X10</text>
<text x="48" y="612.6" font-size="11.3" text-anchor="end" fill="#000" stroke="#000">X</text>
<text x="48" y="663.6" font-size="11.3" text-anchor="end" fill="#000" stroke="#000">M</text>
<text x="48" y="714.6" font-size="11.3" text-anchor="end" fill="#000" stroke="#000">C</text>
<text x="48" y="761.5" font-size="11.3" text-anchor="end" fill="#000" stroke="#000">B</text>
<text font-size="11.5" fill="#000" stroke="#000" transform="translate(19.2,696.25) rotate(-90)"><tspan x="0.0" y="0" rotate="0" textLength="27.8" lengthAdjust="spacingAndGlyphs">GOES</tspan> <tspan x="33.8" y="0" rotate="0" textLength="33.0" lengthAdjust="spacingAndGlyphs">X&#8722;ray</tspan> <tspan x="70.5" y="0" rotate="0" textLength="27.0" lengthAdjust="spacingAndGlyphs">Class</tspan></text>
<text font-size="11" fill="#000" stroke="#000"><tspan x="63.3" y="776.2" rotate="0" textLength="13.2" lengthAdjust="spacingAndGlyphs">01</tspan><tspan x="77.6" y="777.9" font-size="17" rotate="13">/</tspan><tspan x="85.1" y="776.2" rotate="0" textLength="13.4" lengthAdjust="spacingAndGlyphs">05</tspan></text>
<text font-size="11" fill="#000" stroke="#000"><tspan x="165.3" y="776.2" rotate="0" textLength="13.2" lengthAdjust="spacingAndGlyphs">01</tspan><tspan x="179.6" y="777.9" font-size="17" rotate="13">/</tspan><tspan x="187.1" y="776.2" rotate="0" textLength="13.4" lengthAdjust="spacingAndGlyphs">08</tspan></text>
<text font-size="11" fill="#000" stroke="#000"><tspan x="267.3" y="776.2" rotate="0" textLength="13.2" lengthAdjust="spacingAndGlyphs">01</tspan><tspan x="281.6" y="777.9" font-size="17" rotate="13">/</tspan><tspan x="289.1" y="776.2" rotate="0" textLength="13.4" lengthAdjust="spacingAndGlyphs">11</tspan></text>
<text font-size="11" fill="#000" stroke="#000"><tspan x="369.3" y="776.2" rotate="0" textLength="13.2" lengthAdjust="spacingAndGlyphs">01</tspan><tspan x="383.6" y="777.9" font-size="17" rotate="13">/</tspan><tspan x="391.1" y="776.2" rotate="0" textLength="13.4" lengthAdjust="spacingAndGlyphs">14</tspan></text>
<text font-size="11" fill="#000" stroke="#000"><tspan x="471.3" y="776.2" rotate="0" textLength="13.2" lengthAdjust="spacingAndGlyphs">01</tspan><tspan x="485.6" y="777.9" font-size="17" rotate="13">/</tspan><tspan x="493.1" y="776.2" rotate="0" textLength="13.4" lengthAdjust="spacingAndGlyphs">17</tspan></text>
<text font-size="11.5" fill="#000" stroke="#000"><tspan x="480.5" y="791" rotate="0" textLength="48.8" lengthAdjust="spacingAndGlyphs">Prepared</tspan> <tspan x="536.0" y="791" rotate="0" textLength="10.7" lengthAdjust="spacingAndGlyphs">by</tspan> <tspan x="554.1" y="791" rotate="0" textLength="29.9" lengthAdjust="spacingAndGlyphs">HELIO</tspan></text>
<g clip-path="url(#c3)">
<rect x="52" y="720" width="1" height="4" fill="#ff0000"/>
<rect x="53" y="720" width="1" height="3" fill="#ff0000"/>
<rect x="54" y="718" width="1" height="4" fill="#ff0000"/>
<rect x="55" y="720" width="1" height="4" fill="#ff0000"/>
<rect x="56" y="707" width="1" height="16" fill="#ff0000"/>
<rect x="57" y="710" width="1" height="8" fill="#ff0000"/>
<rect x="58" y="711" width="1" height="8" fill="#ff0000"/>
<rect x="59" y="717" width="1" height="1" fill="#ff0000"/>
<rect x="60" y="703" width="1" height="15" fill="#ff0000"/>
<rect x="61" y="703" width="1" height="5" fill="#ff0000"/>
<rect x="62" y="704" width="1" height="7" fill="#ff0000"/>
<rect x="63" y="711" width="1" height="5" fill="#ff0000"/>
<rect x="64" y="709" width="1" height="6" fill="#ff0000"/>
<rect x="65" y="704" width="1" height="6" fill="#ff0000"/>
<rect x="66" y="704" width="1" height="8" fill="#ff0000"/>
<rect x="67" y="711" width="1" height="8" fill="#ff0000"/>
<rect x="68" y="715" width="1" height="3" fill="#ff0000"/>
<rect x="69" y="714" width="1" height="5" fill="#ff0000"/>
<rect x="70" y="714" width="1" height="6" fill="#ff0000"/>
<rect x="71" y="707" width="1" height="13" fill="#ff0000"/>
<rect x="72" y="712" width="1" height="4" fill="#ff0000"/>
<rect x="73" y="704" width="1" height="10" fill="#ff0000"/>
<rect x="74" y="707" width="1" height="6" fill="#ff0000"/>
<rect x="75" y="712" width="1" height="4" fill="#ff0000"/>
<rect x="76" y="712" width="1" height="4" fill="#ff0000"/>
<rect x="77" y="709" width="1" height="5" fill="#ff0000"/>
<rect x="78" y="705" width="1" height="8" fill="#ff0000"/>
<rect x="79" y="709" width="1" height="4" fill="#ff0000"/>
<rect x="80" y="694" width="1" height="17" fill="#ff0000"/>
<rect x="81" y="690" width="1" height="6" fill="#ff0000"/>
<rect x="82" y="690" width="1" height="7" fill="#ff0000"/>
<rect x="83" y="695" width="1" height="8" fill="#ff0000"/>
<rect x="84" y="702" width="1" height="11" fill="#ff0000"/>
<rect x="85" y="706" width="1" height="8" fill="#ff0000"/>
<rect x="86" y="700" width="1" height="8" fill="#ff0000"/>
<rect x="87" y="700" width="1" height="1" fill="#ff0000"/>
<rect x="88" y="686" width="1" height="15" fill="#ff0000"/>
<rect x="89" y="700" width="1" height="13" fill="#ff0000"/>
<rect x="90" y="700" width="1" height="13" fill="#ff0000"/>
<rect x="91" y="694" width="1" height="14" fill="#ff0000"/>
<rect x="92" y="700" width="1" height="18" fill="#ff0000"/>
<rect x="93" y="702" width="1" height="16" fill="#ff0000"/>
<rect x="94" y="646" width="1" height="57" fill="#ff0000"/>
<rect x="95" y="663" width="1" height="32" fill="#ff0000"/>
<rect x="96" y="691" width="1" height="10" fill="#ff0000"/>
<rect x="97" y="698" width="1" height="8" fill="#ff0000"/>
<rect x="98" y="704" width="1" height="7" fill="#ff0000"/>
<rect x="99" y="708" width="1" height="5" fill="#ff0000"/>
<rect x="100" y="713" width="1" height="3" fill="#ff0000"/>
<rect x="101" y="712" width="1" height="3" fill="#ff0000"/>
<rect x="102" y="706" width="1" height="7" fill="#ff0000"/>
<rect x="103" y="700" width="1" height="7" fill="#ff0000"/>
<rect x="104" y="698" width="1" height="5" fill="#ff0000"/>
<rect x="105" y="701" width="1" height="11" fill="#ff0000"/>
<rect x="106" y="710" width="1" height="3" fill="#ff0000"/>
<rect x="107" y="711" width="1" height="5" fill="#ff0000"/>
<rect x="108" y="712" width="1" height="3" fill="#ff0000"/>
<rect x="109" y="715" width="1" height="4" fill="#ff0000"/>
<rect x="110" y="716" width="1" height="3" fill="#ff0000"/>
<rect x="111" y="715" width="1" height="3" fill="#ff0000"/>
<rect x="112" y="692" width="1" height="26" fill="#ff0000"/>
<rect x="113" y="699" width="1" height="13" fill="#ff0000"/>
<rect x="114" y="711" width="1" height="11" fill="#ff0000"/>
<rect x="115" y="722" width="1" height="1" fill="#ff0000"/>
<rect x="116" y="721" width="1" height="4" fill="#ff0000"/>
<rect x="117" y="716" width="1" height="8" fill="#ff0000"/>
<rect x="118" y="709" width="1" height="8" fill="#ff0000"/>
<rect x="119" y="684" width="1" height="26" fill="#ff0000"/>
<rect x="120" y="697" width="1" height="7" fill="#ff0000"/>
<rect x="121" y="702" width="1" height="9" fill="#ff0000"/>
<rect x="122" y="711" width="1" height="7" fill="#ff0000"/>
<rect x="123" y="717" width="1" height="6" fill="#ff0000"/>
<rect x="124" y="716" width="1" height="9" fill="#ff0000"/>
<rect x="125" y="720" width="1" height="4" fill="#ff0000"/>
<rect x="126" y="719" width="1" height="4" fill="#ff0000"/>
<rect x="127" y="713" width="1" height="7" fill="#ff0000"/>
<rect x="128" y="710" width="1" height="5" fill="#ff0000"/>
<rect x="129" y="694" width="1" height="18" fill="#ff0000"/>
<rect x="130" y="699" width="1" height="11" fill="#ff0000"/>
<rect x="131" y="707" width="1" height="7" fill="#ff0000"/>
<rect x="132" y="713" width="1" height="2" fill="#ff0000"/>
<rect x="133" y="698" width="1" height="16" fill="#ff0000"/>
<rect x="134" y="706" width="1" height="12" fill="#ff0000"/>
<rect x="135" y="707" width="1" height="12" fill="#ff0000"/>
<rect x="136" y="711" width="1" height="5" fill="#ff0000"/>
<rect x="137" y="713" width="1" height="6" fill="#ff0000"/>
<rect x="138" y="716" width="1" height="1" fill="#ff0000"/>
<rect x="139" y="705" width="1" height="13" fill="#ff0000"/>
<rect x="140" y="709" width="1" height="9" fill="#ff0000"/>
<rect x="141" y="718" width="1" height="5" fill="#ff0000"/>
<rect x="142" y="719" width="1" height="5" fill="#ff0000"/>
<rect x="143" y="721" width="1" height="2" fill="#ff0000"/>
<rect x="144" y="718" width="1" height="5" fill="#ff0000"/>
<rect x="145" y="720" width="1" height="3" fill="#ff0000"/>
<rect x="146" y="721" width="1" height="3" fill="#ff0000"/>
<rect x="147" y="712" width="1" height="10" fill="#ff0000"/>
<rect x="148" y="720" width="1" height="4" fill="#ff0000"/>
<rect x="149" y="714" width="1" height="7" fill="#ff0000"/>
<rect x="150" y="707" width="1" height="13" fill="#ff0000"/>
<rect x="151" y="713" width="1" height="7" fill="#ff0000"/>
<rect x="152" y="716" width="1" height="4" fill="#ff0000"/>
<rect x="153" y="718" width="1" height="6" fill="#ff0000"/>
<rect x="154" y="716" width="1" height="7" fill="#ff0000"/>
<rect x="155" y="709" width="1" height="12" fill="#ff0000"/>
<rect x="156" y="716" width="1" height="7" fill="#ff0000"/>
<rect x="157" y="717" width="1" height="7" fill="#ff0000"/>
<rect x="158" y="721" width="1" height="2" fill="#ff0000"/>
<rect x="159" y="708" width="1" height="16" fill="#ff0000"/>
<rect x="160" y="707" width="1" height="11" fill="#ff0000"/>
<rect x="161" y="702" width="1" height="7" fill="#ff0000"/>
<rect x="162" y="683" width="1" height="26" fill="#ff0000"/>
<rect x="163" y="707" width="1" height="7" fill="#ff0000"/>
<rect x="164" y="711" width="1" height="4" fill="#ff0000"/>
<rect x="165" y="713" width="1" height="3" fill="#ff0000"/>
<rect x="166" y="711" width="1" height="3" fill="#ff0000"/>
<rect x="167" y="710" width="1" height="3" fill="#ff0000"/>
<rect x="168" y="707" width="1" height="7" fill="#ff0000"/>
<rect x="169" y="713" width="1" height="3" fill="#ff0000"/>
<rect x="170" y="711" width="1" height="4" fill="#ff0000"/>
<rect x="171" y="710" width="1" height="5" fill="#ff0000"/>
<rect x="172" y="710" width="1" height="5" fill="#ff0000"/>
<rect x="173" y="711" width="1" height="4" fill="#ff0000"/>
<rect x="174" y="710" width="1" height="3" fill="#ff0000"/>
<rect x="175" y="704" width="1" height="11" fill="#ff0000"/>
<rect x="176" y="715" width="1" height="3" fill="#ff0000"/>
<rect x="177" y="715" width="1" height="3" fill="#ff0000"/>
<rect x="178" y="714" width="1" height="2" fill="#ff0000"/>
<rect x="179" y="715" width="1" height="4" fill="#ff0000"/>
<rect x="180" y="715" width="1" height="5" fill="#ff0000"/>
<rect x="181" y="705" width="1" height="10" fill="#ff0000"/>
<rect x="182" y="696" width="1" height="11" fill="#ff0000"/>
<rect x="183" y="691" width="1" height="7" fill="#ff0000"/>
<rect x="184" y="696" width="1" height="9" fill="#ff0000"/>
<rect x="185" y="693" width="1" height="12" fill="#ff0000"/>
<rect x="186" y="698" width="1" height="10" fill="#ff0000"/>
<rect x="187" y="706" width="1" height="6" fill="#ff0000"/>
<rect x="188" y="708" width="1" height="5" fill="#ff0000"/>
<rect x="189" y="705" width="1" height="4" fill="#ff0000"/>
<rect x="190" y="705" width="1" height="8" fill="#ff0000"/>
<rect x="191" y="706" width="1" height="8" fill="#ff0000"/>
<rect x="192" y="708" width="1" height="4" fill="#ff0000"/>
<rect x="193" y="695" width="1" height="17" fill="#ff0000"/>
<rect x="194" y="708" width="1" height="4" fill="#ff0000"/>
<rect x="195" y="710" width="1" height="5" fill="#ff0000"/>
<rect x="196" y="713" width="1" height="3" fill="#ff0000"/>
<rect x="197" y="707" width="1" height="10" fill="#ff0000"/>
<rect x="198" y="713" width="1" height="5" fill="#ff0000"/>
<rect x="199" y="712" width="1" height="5" fill="#ff0000"/>
<rect x="200" y="712" width="1" height="7" fill="#ff0000"/>
<rect x="201" y="714" width="1" height="3" fill="#ff0000"/>
<rect x="202" y="712" width="1" height="5" fill="#ff0000"/>
<rect x="203" y="703" width="1" height="11" fill="#ff0000"/>
<rect x="204" y="706" width="1" height="6" fill="#ff0000"/>
<rect x="205" y="712" width="1" height="2" fill="#ff0000"/>
<rect x="206" y="700" width="1" height="13" fill="#ff0000"/>
<rect x="207" y="705" width="1" height="8" fill="#ff0000"/>
<rect x="208" y="702" width="1" height="13" fill="#ff0000"/>
<rect x="209" y="713" width="1" height="3" fill="#ff0000"/>
<rect x="210" y="678" width="1" height="37" fill="#ff0000"/>
<rect x="211" y="694" width="1" height="7" fill="#ff0000"/>
<rect x="212" y="701" width="1" height="7" fill="#ff0000"/>
<rect x="213" y="707" width="1" height="7" fill="#ff0000"/>
<rect x="214" y="711" width="1" height="5" fill="#ff0000"/>
<rect x="215" y="709" width="1" height="5" fill="#ff0000"/>
<rect x="216" y="707" width="1" height="5" fill="#ff0000"/>
<rect x="217" y="702" width="1" height="9" fill="#ff0000"/>
<rect x="218" y="701" width="1" height="5" fill="#ff0000"/>
<rect x="219" y="702" width="1" height="7" fill="#ff0000"/>
<rect x="220" y="707" width="1" height="5" fill="#ff0000"/>
<rect x="221" y="711" width="1" height="4" fill="#ff0000"/>
<rect x="222" y="709" width="1" height="4" fill="#ff0000"/>
<rect x="223" y="708" width="1" height="3" fill="#ff0000"/>
<rect x="224" y="711" width="1" height="5" fill="#ff0000"/>
<rect x="225" y="712" width="1" height="4" fill="#ff0000"/>
<rect x="226" y="710" width="1" height="4" fill="#ff0000"/>
<rect x="227" y="710" width="1" height="4" fill="#ff0000"/>
<rect x="228" y="705" width="1" height="6" fill="#ff0000"/>
<rect x="229" y="700" width="1" height="6" fill="#ff0000"/>
<rect x="230" y="699" width="1" height="3" fill="#ff0000"/>
<rect x="231" y="689" width="1" height="14" fill="#ff0000"/>
<rect x="232" y="697" width="1" height="2" fill="#ff0000"/>
<rect x="233" y="689" width="1" height="12" fill="#ff0000"/>
<rect x="234" y="694" width="1" height="10" fill="#ff0000"/>
<rect x="235" y="704" width="1" height="6" fill="#ff0000"/>
<rect x="236" y="698" width="1" height="7" fill="#ff0000"/>
<rect x="237" y="691" width="1" height="11" fill="#ff0000"/>
<rect x="238" y="684" width="1" height="8" fill="#ff0000"/>
<rect x="239" y="682" width="1" height="5" fill="#ff0000"/>
<rect x="240" y="682" width="1" height="9" fill="#ff0000"/>
<rect x="241" y="688" width="1" height="3" fill="#ff0000"/>
<rect x="242" y="691" width="1" height="3" fill="#ff0000"/>
<rect x="243" y="688" width="1" height="5" fill="#ff0000"/>
<rect x="244" y="685" width="1" height="6" fill="#ff0000"/>
<rect x="245" y="689" width="1" height="6" fill="#ff0000"/>
<rect x="246" y="692" width="1" height="5" fill="#ff0000"/>
<rect x="247" y="696" width="1" height="2" fill="#ff0000"/>
<rect x="248" y="694" width="1" height="5" fill="#ff0000"/>
<rect x="249" y="695" width="1" height="5" fill="#ff0000"/>
<rect x="250" y="693" width="1" height="6" fill="#ff0000"/>
<rect x="251" y="692" width="1" height="4" fill="#ff0000"/>
<rect x="252" y="690" width="1" height="2" fill="#ff0000"/>
<rect x="253" y="690" width="1" height="3" fill="#ff0000"/>
<rect x="254" y="690" width="1" height="7" fill="#ff0000"/>
<rect x="255" y="696" width="1" height="7" fill="#ff0000"/>
<rect x="256" y="692" width="1" height="11" fill="#ff0000"/>
<rect x="257" y="697" width="1" height="8" fill="#ff0000"/>
<rect x="258" y="700" width="1" height="10" fill="#ff0000"/>
<rect x="259" y="701" width="1" height="9" fill="#ff0000"/>
<rect x="260" y="698" width="1" height="5" fill="#ff0000"/>
<rect x="261" y="700" width="1" height="6" fill="#ff0000"/>
<rect x="262" y="703" width="1" height="6" fill="#ff0000"/>
<rect x="263" y="705" width="1" height="4" fill="#ff0000"/>
<rect x="264" y="689" width="1" height="19" fill="#ff0000"/>
<rect x="265" y="708" width="1" height="3" fill="#ff0000"/>
<rect x="266" y="706" width="1" height="5" fill="#ff0000"/>
<rect x="267" y="711" width="1" height="5" fill="#ff0000"/>
<rect x="268" y="707" width="1" height="7" fill="#ff0000"/>
<rect x="269" y="701" width="1" height="7" fill="#ff0000"/>
<rect x="270" y="698" width="1" height="6" fill="#ff0000"/>
<rect x="271" y="696" width="1" height="6" fill="#ff0000"/>
<rect x="272" y="700" width="1" height="8" fill="#ff0000"/>
<rect x="273" y="701" width="1" height="6" fill="#ff0000"/>
<rect x="274" y="684" width="1" height="22" fill="#ff0000"/>
<rect x="275" y="706" width="1" height="2" fill="#ff0000"/>
<rect x="276" y="662" width="1" height="45" fill="#ff0000"/>
<rect x="277" y="680" width="1" height="12" fill="#ff0000"/>
<rect x="278" y="680" width="1" height="18" fill="#ff0000"/>
<rect x="279" y="680" width="1" height="4" fill="#ff0000"/>
<rect x="280" y="681" width="1" height="22" fill="#ff0000"/>
<rect x="281" y="697" width="1" height="7" fill="#ff0000"/>
<rect x="282" y="697" width="1" height="10" fill="#ff0000"/>
<rect x="283" y="705" width="1" height="6" fill="#ff0000"/>
<rect x="284" y="699" width="1" height="8" fill="#ff0000"/>
<rect x="285" y="691" width="1" height="10" fill="#ff0000"/>
<rect x="286" y="701" width="1" height="12" fill="#ff0000"/>
<rect x="287" y="711" width="1" height="3" fill="#ff0000"/>
<rect x="288" y="710" width="1" height="4" fill="#ff0000"/>
<rect x="289" y="676" width="1" height="37" fill="#ff0000"/>
<rect x="290" y="699" width="1" height="6" fill="#ff0000"/>
<rect x="291" y="691" width="1" height="11" fill="#ff0000"/>
<rect x="292" y="691" width="1" height="6" fill="#ff0000"/>
<rect x="293" y="681" width="1" height="12" fill="#ff0000"/>
<rect x="294" y="659" width="1" height="23" fill="#ff0000"/>
<rect x="295" y="682" width="1" height="17" fill="#ff0000"/>
<rect x="296" y="698" width="1" height="13" fill="#ff0000"/>
<rect x="297" y="699" width="1" height="7" fill="#ff0000"/>
<rect x="298" y="653" width="1" height="60" fill="#ff0000"/>
<rect x="299" y="711" width="1" height="4" fill="#ff0000"/>
<rect x="300" y="712" width="1" height="2" fill="#ff0000"/>
<rect x="301" y="711" width="1" height="3" fill="#ff0000"/>
<rect x="302" y="709" width="1" height="4" fill="#ff0000"/>
<rect x="303" y="708" width="1" height="4" fill="#ff0000"/>
<rect x="304" y="699" width="1" height="12" fill="#ff0000"/>
<rect x="305" y="688" width="1" height="24" fill="#ff0000"/>
<rect x="306" y="656" width="1" height="33" fill="#ff0000"/>
<rect x="307" y="658" width="1" height="18" fill="#ff0000"/>
<rect x="308" y="675" width="1" height="34" fill="#ff0000"/>
<rect x="309" y="706" width="1" height="8" fill="#ff0000"/>
<rect x="310" y="708" width="1" height="5" fill="#ff0000"/>
<rect x="311" y="713" width="1" height="4" fill="#ff0000"/>
<rect x="312" y="709" width="1" height="5" fill="#ff0000"/>
<rect x="313" y="675" width="1" height="36" fill="#ff0000"/>
<rect x="314" y="685" width="1" height="7" fill="#ff0000"/>
<rect x="315" y="691" width="1" height="14" fill="#ff0000"/>
<rect x="316" y="704" width="1" height="6" fill="#ff0000"/>
<rect x="317" y="699" width="1" height="11" fill="#ff0000"/>
<rect x="318" y="694" width="1" height="11" fill="#ff0000"/>
<rect x="319" y="698" width="1" height="11" fill="#ff0000"/>
<rect x="320" y="703" width="1" height="6" fill="#ff0000"/>
<rect x="321" y="704" width="1" height="3" fill="#ff0000"/>
<rect x="322" y="672" width="1" height="33" fill="#ff0000"/>
<rect x="323" y="679" width="1" height="7" fill="#ff0000"/>
<rect x="324" y="685" width="1" height="10" fill="#ff0000"/>
<rect x="325" y="694" width="1" height="6" fill="#ff0000"/>
<rect x="326" y="688" width="1" height="7" fill="#ff0000"/>
<rect x="327" y="692" width="1" height="12" fill="#ff0000"/>
<rect x="328" y="703" width="1" height="9" fill="#ff0000"/>
<rect x="329" y="709" width="1" height="6" fill="#ff0000"/>
<rect x="330" y="710" width="1" height="7" fill="#ff0000"/>
<rect x="331" y="712" width="1" height="6" fill="#ff0000"/>
<rect x="332" y="717" width="1" height="3" fill="#ff0000"/>
<rect x="333" y="699" width="1" height="19" fill="#ff0000"/>
<rect x="334" y="703" width="1" height="5" fill="#ff0000"/>
<rect x="335" y="700" width="1" height="8" fill="#ff0000"/>
<rect x="336" y="697" width="1" height="7" fill="#ff0000"/>
<rect x="337" y="700" width="1" height="12" fill="#ff0000"/>
<rect x="338" y="711" width="1" height="4" fill="#ff0000"/>
<rect x="339" y="714" width="1" height="3" fill="#ff0000"/>
<rect x="340" y="715" width="1" height="4" fill="#ff0000"/>
<rect x="341" y="694" width="1" height="22" fill="#ff0000"/>
<rect x="342" y="700" width="1" height="9" fill="#ff0000"/>
<rect x="343" y="691" width="1" height="18" fill="#ff0000"/>
<rect x="344" y="706" width="1" height="4" fill="#ff0000"/>
<rect x="345" y="707" width="1" height="6" fill="#ff0000"/>
<rect x="346" y="709" width="1" height="2" fill="#ff0000"/>
<rect x="347" y="678" width="1" height="40" fill="#ff0000"/>
<rect x="348" y="718" width="1" height="3" fill="#ff0000"/>
<rect x="349" y="717" width="1" height="3" fill="#ff0000"/>
<rect x="350" y="683" width="1" height="37" fill="#ff0000"/>
<rect x="351" y="710" width="1" height="6" fill="#ff0000"/>
<rect x="352" y="710" width="1" height="10" fill="#ff0000"/>
<rect x="353" y="712" width="1" height="5" fill="#ff0000"/>
<rect x="354" y="656" width="1" height="58" fill="#ff0000"/>
<rect x="355" y="693" width="1" height="4" fill="#ff0000"/>
<rect x="356" y="694" width="1" height="13" fill="#ff0000"/>
<rect x="357" y="706" width="1" height="8" fill="#ff0000"/>
<rect x="358" y="712" width="1" height="6" fill="#ff0000"/>
<rect x="359" y="713" width="1" height="4" fill="#ff0000"/>
<rect x="360" y="697" width="1" height="20" fill="#ff0000"/>
<rect x="361" y="716" width="1" height="3" fill="#ff0000"/>
<rect x="362" y="712" width="1" height="6" fill="#ff0000"/>
<rect x="363" y="686" width="1" height="32" fill="#ff0000"/>
<rect x="364" y="681" width="1" height="6" fill="#ff0000"/>
<rect x="365" y="646" width="1" height="64" fill="#ff0000"/>
<rect x="366" y="702" width="1" height="8" fill="#ff0000"/>
<rect x="367" y="698" width="1" height="9" fill="#ff0000"/>
<rect x="368" y="702" width="1" height="8" fill="#ff0000"/>
<rect x="369" y="699" width="1" height="8" fill="#ff0000"/>
<rect x="370" y="695" width="1" height="4" fill="#ff0000"/>
<rect x="371" y="692" width="1" height="9" fill="#ff0000"/>
<rect x="372" y="698" width="1" height="7" fill="#ff0000"/>
<rect x="373" y="701" width="1" height="6" fill="#ff0000"/>
<rect x="374" y="704" width="1" height="4" fill="#ff0000"/>
<rect x="375" y="687" width="1" height="21" fill="#ff0000"/>
<rect x="376" y="688" width="1" height="4" fill="#ff0000"/>
<rect x="377" y="686" width="1" height="6" fill="#ff0000"/>
<rect x="378" y="689" width="1" height="4" fill="#ff0000"/>
<rect x="379" y="686" width="1" height="11" fill="#ff0000"/>
<rect x="380" y="695" width="1" height="8" fill="#ff0000"/>
<rect x="381" y="700" width="1" height="6" fill="#ff0000"/>
<rect x="382" y="703" width="1" height="6" fill="#ff0000"/>
<rect x="383" y="705" width="1" height="7" fill="#ff0000"/>
<rect x="384" y="709" width="1" height="3" fill="#ff0000"/>
<rect x="385" y="702" width="1" height="10" fill="#ff0000"/>
<rect x="386" y="708" width="1" height="4" fill="#ff0000"/>
<rect x="387" y="710" width="1" height="3" fill="#ff0000"/>
<rect x="388" y="700" width="1" height="10" fill="#ff0000"/>
<rect x="389" y="667" width="1" height="34" fill="#ff0000"/>
<rect x="390" y="691" width="1" height="4" fill="#ff0000"/>
<rect x="391" y="693" width="1" height="7" fill="#ff0000"/>
<rect x="392" y="698" width="1" height="7" fill="#ff0000"/>
<rect x="393" y="704" width="1" height="7" fill="#ff0000"/>
<rect x="394" y="707" width="1" height="6" fill="#ff0000"/>
<rect x="395" y="711" width="1" height="4" fill="#ff0000"/>
<rect x="396" y="702" width="1" height="13" fill="#ff0000"/>
<rect x="397" y="711" width="1" height="12" fill="#ff0000"/>
<rect x="398" y="721" width="1" height="4" fill="#ff0000"/>
<rect x="399" y="724" width="1" height="2" fill="#ff0000"/>
<rect x="400" y="714" width="1" height="10" fill="#ff0000"/>
<rect x="401" y="712" width="1" height="12" fill="#ff0000"/>
<rect x="402" y="715" width="1" height="6" fill="#ff0000"/>
<rect x="403" y="715" width="1" height="4" fill="#ff0000"/>
<rect x="404" y="717" width="1" height="6" fill="#ff0000"/>
<rect x="405" y="720" width="1" height="4" fill="#ff0000"/>
<rect x="406" y="723" width="1" height="2" fill="#ff0000"/>
<rect x="407" y="724" width="1" height="1" fill="#ff0000"/>
<rect x="408" y="723" width="1" height="2" fill="#ff0000"/>
<rect x="409" y="682" width="1" height="43" fill="#ff0000"/>
<rect x="410" y="694" width="1" height="23" fill="#ff0000"/>
<rect x="411" y="716" width="1" height="9" fill="#ff0000"/>
<rect x="412" y="702" width="1" height="23" fill="#ff0000"/>
<rect x="413" y="720" width="1" height="6" fill="#ff0000"/>
<rect x="414" y="715" width="1" height="7" fill="#ff0000"/>
<rect x="415" y="714" width="1" height="4" fill="#ff0000"/>
<rect x="416" y="710" width="1" height="9" fill="#ff0000"/>
<rect x="417" y="717" width="1" height="6" fill="#ff0000"/>
<rect x="418" y="721" width="1" height="4" fill="#ff0000"/>
<rect x="419" y="717" width="1" height="9" fill="#ff0000"/>
<rect x="420" y="718" width="1" height="8" fill="#ff0000"/>
<rect x="421" y="715" width="1" height="6" fill="#ff0000"/>
<rect x="422" y="710" width="1" height="5" fill="#ff0000"/>
<rect x="423" y="712" width="1" height="7" fill="#ff0000"/>
<rect x="424" y="710" width="1" height="9" fill="#ff0000"/>
<rect x="425" y="715" width="1" height="3" fill="#ff0000"/>
<rect x="426" y="716" width="1" height="4" fill="#ff0000"/>
<rect x="427" y="709" width="1" height="13" fill="#ff0000"/>
<rect x="428" y="720" width="1" height="2" fill="#ff0000"/>
<rect x="429" y="692" width="1" height="30" fill="#ff0000"/>
<rect x="430" y="700" width="1" height="4" fill="#ff0000"/>
<rect x="431" y="704" width="1" height="7" fill="#ff0000"/>
<rect x="432" y="710" width="1" height="13" fill="#ff0000"/>
<rect x="433" y="718" width="1" height="6" fill="#ff0000"/>
<rect x="434" y="702" width="1" height="20" fill="#ff0000"/>
<rect x="435" y="707" width="1" height="8" fill="#ff0000"/>
<rect x="436" y="715" width="1" height="5" fill="#ff0000"/>
<rect x="437" y="714" width="1" height="3" fill="#ff0000"/>
<rect x="438" y="705" width="1" height="12" fill="#ff0000"/>
<rect x="439" y="712" width="1" height="7" fill="#ff0000"/>
<rect x="440" y="718" width="1" height="5" fill="#ff0000"/>
<rect x="441" y="719" width="1" height="5" fill="#ff0000"/>
<rect x="442" y="723" width="1" height="4" fill="#ff0000"/>
<rect x="443" y="724" width="1" height="3" fill="#ff0000"/>
<rect x="444" y="725" width="1" height="2" fill="#ff0000"/>
<rect x="445" y="727" width="1" height="2" fill="#ff0000"/>
<rect x="446" y="726" width="1" height="3" fill="#ff0000"/>
<rect x="447" y="721" width="1" height="7" fill="#ff0000"/>
<rect x="448" y="718" width="1" height="5" fill="#ff0000"/>
<rect x="449" y="715" width="1" height="6" fill="#ff0000"/>
<rect x="450" y="717" width="1" height="7" fill="#ff0000"/>
<rect x="451" y="723" width="1" height="6" fill="#ff0000"/>
<rect x="452" y="723" width="1" height="2" fill="#ff0000"/>
<rect x="453" y="696" width="1" height="30" fill="#ff0000"/>
<rect x="454" y="699" width="1" height="14" fill="#ff0000"/>
<rect x="455" y="713" width="1" height="14" fill="#ff0000"/>
<rect x="456" y="726" width="1" height="4" fill="#ff0000"/>
<rect x="457" y="726" width="1" height="3" fill="#ff0000"/>
<rect x="458" y="717" width="1" height="11" fill="#ff0000"/>
<rect x="459" y="724" width="1" height="3" fill="#ff0000"/>
<rect x="460" y="725" width="1" height="4" fill="#ff0000"/>
<rect x="461" y="719" width="1" height="8" fill="#ff0000"/>
<rect x="462" y="724" width="1" height="4" fill="#ff0000"/>
<rect x="463" y="724" width="1" height="6" fill="#ff0000"/>
<rect x="464" y="727" width="1" height="2" fill="#ff0000"/>
<rect x="465" y="724" width="1" height="6" fill="#ff0000"/>
<rect x="466" y="717" width="1" height="10" fill="#ff0000"/>
<rect x="467" y="712" width="1" height="5" fill="#ff0000"/>
<rect x="468" y="712" width="1" height="10" fill="#ff0000"/>
<rect x="469" y="719" width="1" height="7" fill="#ff0000"/>
<rect x="470" y="713" width="1" height="10" fill="#ff0000"/>
<rect x="471" y="711" width="1" height="5" fill="#ff0000"/>
<rect x="472" y="716" width="1" height="6" fill="#ff0000"/>
<rect x="473" y="717" width="1" height="6" fill="#ff0000"/>
<rect x="474" y="717" width="1" height="3" fill="#ff0000"/>
<rect x="475" y="719" width="1" height="5" fill="#ff0000"/>
<rect x="476" y="721" width="1" height="6" fill="#ff0000"/>
<rect x="477" y="726" width="1" height="4" fill="#ff0000"/>
<rect x="478" y="729" width="1" height="4" fill="#ff0000"/>
<rect x="479" y="730" width="1" height="2" fill="#ff0000"/>
<rect x="480" y="719" width="1" height="13" fill="#ff0000"/>
<rect x="481" y="702" width="1" height="18" fill="#ff0000"/>
<rect x="482" y="691" width="1" height="12" fill="#ff0000"/>
<rect x="483" y="692" width="1" height="9" fill="#ff0000"/>
<rect x="484" y="699" width="1" height="15" fill="#ff0000"/>
<rect x="485" y="713" width="1" height="12" fill="#ff0000"/>
<rect x="486" y="722" width="1" height="4" fill="#ff0000"/>
<rect x="487" y="723" width="1" height="4" fill="#ff0000"/>
<rect x="488" y="726" width="1" height="5" fill="#ff0000"/>
<rect x="489" y="728" width="1" height="3" fill="#ff0000"/>
<rect x="490" y="729" width="1" height="4" fill="#ff0000"/>
<rect x="491" y="731" width="1" height="4" fill="#ff0000"/>
<rect x="492" y="730" width="1" height="3" fill="#ff0000"/>
<rect x="493" y="721" width="1" height="14" fill="#ff0000"/>
<rect x="494" y="732" width="1" height="4" fill="#ff0000"/>
<rect x="495" y="733" width="1" height="3" fill="#ff0000"/>
<rect x="496" y="734" width="1" height="4" fill="#ff0000"/>
<rect x="497" y="736" width="1" height="2" fill="#ff0000"/>
<rect x="498" y="733" width="1" height="3" fill="#ff0000"/>
<rect x="499" y="734" width="1" height="4" fill="#ff0000"/>
<rect x="500" y="729" width="1" height="7" fill="#ff0000"/>
<rect x="501" y="723" width="1" height="7" fill="#ff0000"/>
<rect x="502" y="728" width="1" height="7" fill="#ff0000"/>
<rect x="503" y="715" width="1" height="20" fill="#ff0000"/>
<rect x="504" y="719" width="1" height="7" fill="#ff0000"/>
<rect x="505" y="725" width="1" height="5" fill="#ff0000"/>
<rect x="506" y="728" width="1" height="4" fill="#ff0000"/>
<rect x="507" y="730" width="1" height="4" fill="#ff0000"/>
<rect x="508" y="730" width="1" height="6" fill="#ff0000"/>
<rect x="509" y="729" width="1" height="3" fill="#ff0000"/>
<rect x="510" y="731" width="1" height="5" fill="#ff0000"/>
<rect x="511" y="726" width="1" height="6" fill="#ff0000"/>
<rect x="512" y="729" width="1" height="5" fill="#ff0000"/>
<rect x="513" y="732" width="1" height="4" fill="#ff0000"/>
<rect x="514" y="733" width="1" height="3" fill="#ff0000"/>
<rect x="515" y="731" width="1" height="3" fill="#ff0000"/>
<rect x="516" y="734" width="1" height="4" fill="#ff0000"/>
<rect x="517" y="734" width="1" height="3" fill="#ff0000"/>
<rect x="518" y="733" width="1" height="2" fill="#ff0000"/>
<rect x="519" y="727" width="1" height="9" fill="#ff0000"/>
<rect x="520" y="735" width="1" height="4" fill="#ff0000"/>
<rect x="521" y="732" width="1" height="4" fill="#ff0000"/>
<rect x="522" y="724" width="1" height="14" fill="#ff0000"/>
<rect x="523" y="735" width="1" height="4" fill="#ff0000"/>
<rect x="524" y="738" width="1" height="3" fill="#ff0000"/>
<rect x="525" y="710" width="1" height="30" fill="#ff0000"/>
<rect x="526" y="737" width="1" height="2" fill="#ff0000"/>
<rect x="527" y="738" width="1" height="2" fill="#ff0000"/>
<rect x="528" y="736" width="1" height="5" fill="#ff0000"/>
<rect x="529" y="735" width="1" height="2" fill="#ff0000"/>
<rect x="530" y="696" width="1" height="43" fill="#ff0000"/>
<rect x="531" y="735" width="1" height="3" fill="#ff0000"/>
<rect x="532" y="734" width="1" height="4" fill="#ff0000"/>
<rect x="533" y="733" width="1" height="3" fill="#ff0000"/>
<rect x="534" y="736" width="1" height="3" fill="#ff0000"/>
<rect x="535" y="724" width="1" height="13" fill="#ff0000"/>
<rect x="536" y="736" width="1" height="2" fill="#ff0000"/>
<rect x="537" y="689" width="1" height="50" fill="#ff0000"/>
<rect x="538" y="735" width="1" height="3" fill="#ff0000"/>
<rect x="539" y="736" width="1" height="2" fill="#ff0000"/>
<rect x="540" y="736" width="1" height="4" fill="#ff0000"/>
<rect x="541" y="738" width="1" height="3" fill="#ff0000"/>
<rect x="542" y="707" width="1" height="31" fill="#ff0000"/>
<rect x="543" y="736" width="1" height="4" fill="#ff0000"/>
<rect x="544" y="737" width="1" height="3" fill="#ff0000"/>
<rect x="545" y="725" width="1" height="12" fill="#ff0000"/>
<rect x="546" y="732" width="1" height="6" fill="#ff0000"/>
<rect x="547" y="671" width="1" height="67" fill="#ff0000"/>
<rect x="548" y="680" width="1" height="25" fill="#ff0000"/>
<rect x="549" y="703" width="1" height="23" fill="#ff0000"/>
<rect x="550" y="725" width="1" height="10" fill="#ff0000"/>
<rect x="551" y="726" width="1" height="11" fill="#ff0000"/>
<rect x="552" y="735" width="1" height="4" fill="#ff0000"/>
<rect x="553" y="730" width="1" height="7" fill="#ff0000"/>
<rect x="554" y="720" width="1" height="14" fill="#ff0000"/>
<rect x="81" y="740" width="1" height="21" fill="#0000ff"/>
<rect x="82" y="754" width="1" height="7" fill="#0000ff"/>
<rect x="88" y="737" width="1" height="24" fill="#0000ff"/>
<rect x="89" y="750" width="1" height="11" fill="#0000ff"/>
<rect x="90" y="752" width="1" height="9" fill="#0000ff"/>
<rect x="91" y="754" width="1" height="7" fill="#0000ff"/>
<rect x="94" y="666" width="2" height="95" fill="#0000ff"/>
<rect x="111" y="753" width="1" height="8" fill="#0000ff"/>
<rect x="112" y="749" width="1" height="12" fill="#0000ff"/>
<rect x="119" y="734" width="1" height="27" fill="#0000ff"/>
<rect x="129" y="759" width="1" height="2" fill="#0000ff"/>
<rect x="133" y="756" width="1" height="5" fill="#0000ff"/>
<rect x="161" y="732" width="2" height="29" fill="#0000ff"/>
<rect x="183" y="755" width="1" height="6" fill="#0000ff"/>
<rect x="185" y="750" width="1" height="11" fill="#0000ff"/>
<rect x="193" y="753" width="1" height="8" fill="#0000ff"/>
<rect x="210" y="721" width="1" height="40" fill="#0000ff"/>
<rect x="211" y="755" width="1" height="6" fill="#0000ff"/>
<rect x="231" y="750" width="1" height="11" fill="#0000ff"/>
<rect x="233" y="750" width="1" height="11" fill="#0000ff"/>
<rect x="238" y="750" width="1" height="11" fill="#0000ff"/>
<rect x="239" y="754" width="1" height="7" fill="#0000ff"/>
<rect x="256" y="756" width="1" height="5" fill="#0000ff"/>
<rect x="264" y="751" width="1" height="10" fill="#0000ff"/>
<rect x="265" y="757" width="1" height="4" fill="#0000ff"/>
<rect x="274" y="742" width="1" height="19" fill="#0000ff"/>
<rect x="276" y="712" width="1" height="49" fill="#0000ff"/>
<rect x="277" y="748" width="1" height="13" fill="#0000ff"/>
<rect x="279" y="734" width="1" height="27" fill="#0000ff"/>
<rect x="280" y="739" width="1" height="22" fill="#0000ff"/>
<rect x="289" y="726" width="1" height="35" fill="#0000ff"/>
<rect x="292" y="758" width="1" height="3" fill="#0000ff"/>
<rect x="293" y="727" width="1" height="34" fill="#0000ff"/>
<rect x="294" y="698" width="1" height="63" fill="#0000ff"/>
<rect x="295" y="737" width="1" height="24" fill="#0000ff"/>
<rect x="298" y="689" width="1" height="72" fill="#0000ff"/>
<rect x="306" y="699" width="2" height="62" fill="#0000ff"/>
<rect x="313" y="721" width="1" height="40" fill="#0000ff"/>
<rect x="314" y="739" width="1" height="22" fill="#0000ff"/>
<rect x="312" y="756" width="1" height="5" fill="#0000ff"/>
<rect x="315" y="740" width="1" height="21" fill="#0000ff"/>
<rect x="322" y="721" width="1" height="40" fill="#0000ff"/>
<rect x="323" y="736" width="1" height="25" fill="#0000ff"/>
<rect x="324" y="746" width="1" height="15" fill="#0000ff"/>
<rect x="321" y="758" width="1" height="3" fill="#0000ff"/>
<rect x="325" y="753" width="1" height="8" fill="#0000ff"/>
<rect x="326" y="756" width="1" height="5" fill="#0000ff"/>
<rect x="327" y="752" width="1" height="9" fill="#0000ff"/>
<rect x="341" y="757" width="1" height="4" fill="#0000ff"/>
<rect x="343" y="751" width="1" height="10" fill="#0000ff"/>
<rect x="347" y="721" width="1" height="40" fill="#0000ff"/>
<rect x="350" y="730" width="1" height="31" fill="#0000ff"/>
<rect x="354" y="691" width="1" height="70" fill="#0000ff"/>
<rect x="355" y="755" width="1" height="6" fill="#0000ff"/>
<rect x="356" y="754" width="1" height="7" fill="#0000ff"/>
<rect x="363" y="732" width="1" height="29" fill="#0000ff"/>
<rect x="364" y="732" width="1" height="29" fill="#0000ff"/>
<rect x="365" y="682" width="1" height="79" fill="#0000ff"/>
<rect x="375" y="735" width="1" height="26" fill="#0000ff"/>
<rect x="376" y="748" width="1" height="13" fill="#0000ff"/>
<rect x="378" y="739" width="1" height="22" fill="#0000ff"/>
<rect x="379" y="753" width="1" height="8" fill="#0000ff"/>
<rect x="389" y="712" width="1" height="49" fill="#0000ff"/>
<rect x="390" y="759" width="1" height="2" fill="#0000ff"/>
<rect x="409" y="732" width="1" height="29" fill="#0000ff"/>
<rect x="411" y="759" width="1" height="2" fill="#0000ff"/>
<rect x="429" y="744" width="1" height="17" fill="#0000ff"/>
<rect x="453" y="749" width="1" height="12" fill="#0000ff"/>
<rect x="482" y="759" width="1" height="2" fill="#0000ff"/>
<rect x="530" y="742" width="1" height="19" fill="#0000ff"/>
<rect x="537" y="729" width="2" height="32" fill="#0000ff"/>
<rect x="542" y="746" width="1" height="15" fill="#0000ff"/>
<rect x="547" y="720" width="2" height="41" fill="#0000ff"/>
<rect x="548" y="747" width="1" height="14" fill="#0000ff"/>
</g>
</svg>
</body></html>
